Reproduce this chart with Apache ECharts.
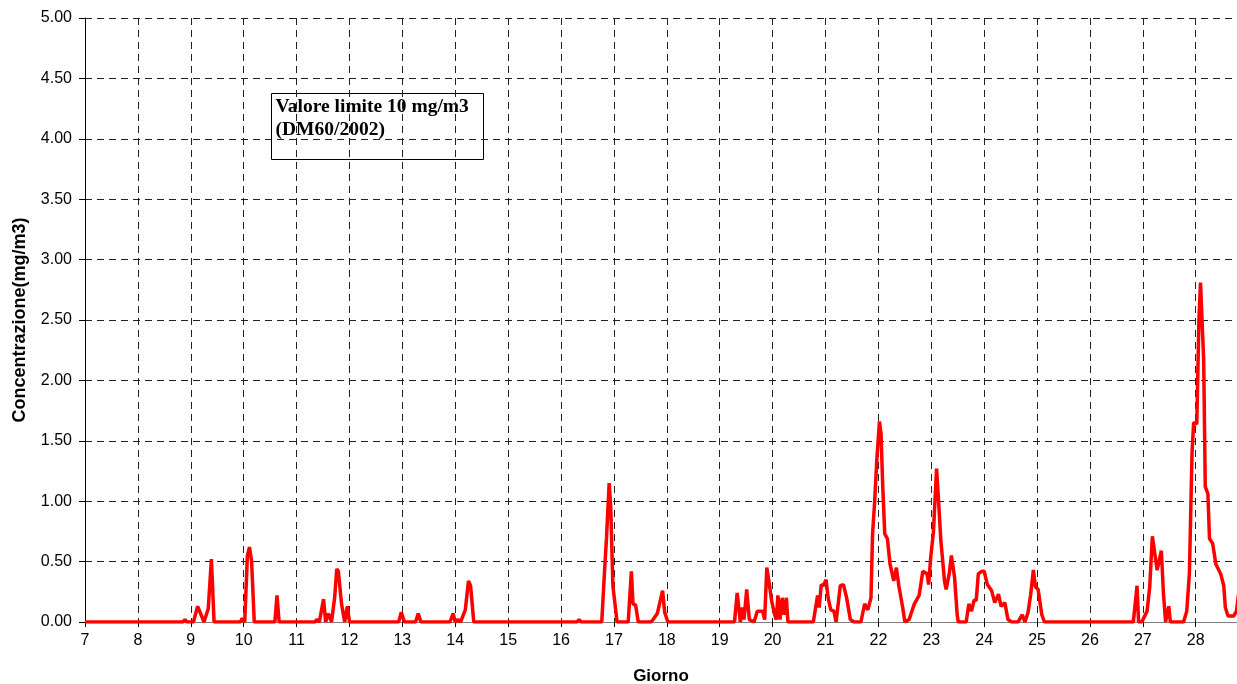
<!DOCTYPE html>
<html>
<head>
<meta charset="utf-8">
<script src="https://cdn.jsdelivr.net/npm/echarts@6/dist/echarts.min.js"></script>
<style>html,body{margin:0;padding:0;background:#fff;overflow:hidden}#c{width:1237px;height:684px}</style>
</head>
<body>
<div id="c"></div>
<script>
// Day (decimal) and concentration (mg/m3)
const days = [
  7.0, 8.85, 8.89, 8.93, 9.05, 9.13, 9.25, 9.33, 9.39, 9.44,
  9.94, 9.97, 10.02, 10.07, 10.11, 10.15, 10.2,
  10.59, 10.63, 10.67,
  11.35, 11.38, 11.43, 11.51, 11.55, 11.6, 11.66, 11.72, 11.76, 11.79, 11.85, 11.91, 11.96, 12.0,
  12.93, 12.98, 13.04, 13.25, 13.3, 13.35,
  13.9, 13.96, 14.0, 14.05, 14.1, 14.19, 14.25, 14.29, 14.35,
  16.3, 16.34, 16.38,
  16.77, 16.82, 16.86, 16.91, 16.94, 16.98, 17.06,
  17.27, 17.33, 17.36, 17.41, 17.46,
  17.7, 17.74, 17.82, 17.92, 17.96, 18.02,
  19.28, 19.33, 19.39, 19.43, 19.46, 19.51, 19.56, 19.65, 19.71, 19.81, 19.85, 19.89, 19.93, 19.98,
  20.04, 20.07, 20.10, 20.14, 20.18, 20.22, 20.26, 20.29,
  20.77, 20.85, 20.88, 20.92, 20.96, 21.01, 21.05, 21.10, 21.16, 21.20, 21.28, 21.34, 21.40, 21.47, 21.54,
  21.67, 21.74, 21.80, 21.86, 21.89, 21.93, 21.97, 22.02, 22.05, 22.08, 22.12, 22.17, 22.22, 22.29, 22.34, 22.39, 22.46, 22.50,
  22.58, 22.68, 22.77, 22.84, 22.92, 22.95, 22.99, 23.04, 23.10, 23.13, 23.18, 23.25, 23.28, 23.34, 23.38, 23.44, 23.49, 23.51,
  23.66, 23.71, 23.76, 23.81, 23.85, 23.89, 23.96, 24.0, 24.06, 24.14, 24.2, 24.27, 24.32, 24.39, 24.45, 24.52,
  24.64, 24.72, 24.77, 24.83, 24.88, 24.93, 24.97, 25.02, 25.09, 25.14,
  26.82, 26.89, 26.92, 26.98, 27.08, 27.13, 27.18, 27.27, 27.35, 27.39, 27.43, 27.49, 27.52,
  27.77, 27.83, 27.88, 27.93, 27.96, 28.02, 28.06, 28.09, 28.12, 28.15, 28.18, 28.23, 28.26, 28.32, 28.38, 28.47, 28.53, 28.56, 28.61, 28.72, 28.77, 28.82
];
const conc = [
  0, 0, 0.02, 0, 0, 0.13, 0.0, 0.11, 0.52, 0,
  0, 0.03, 0, 0.55, 0.62, 0.5, 0,
  0, 0.22, 0,
  0, 0.02, 0, 0.19, 0, 0.07, 0, 0.2, 0.44, 0.42, 0.15, 0, 0.13, 0,
  0, 0.08, 0, 0, 0.07, 0,
  0, 0.07, 0.0, 0.02, 0, 0.1, 0.34, 0.3, 0,
  0, 0.02, 0,
  0, 0.4, 0.7, 1.15, 0.95, 0.3, 0,
  0, 0.42, 0.15, 0.14, 0,
  0, 0.02, 0.07, 0.26, 0.08, 0,
  0, 0.24, 0, 0.12, 0.02, 0.27, 0.02, 0, 0.09, 0.09, 0.02, 0.45, 0.34, 0.18,
  0.06, 0.02, 0.22, 0.02, 0.2, 0.06, 0.2, 0,
  0, 0.22, 0.12, 0.31, 0.30, 0.35, 0.2, 0.1, 0.09, 0, 0.3, 0.31, 0.2, 0.02, 0,
  0, 0.15, 0.1, 0.2, 0.73, 1.0, 1.34, 1.66, 1.56, 1.15, 0.73, 0.69, 0.48, 0.34, 0.45, 0.29, 0.12, 0,
  0.02, 0.15, 0.22, 0.42, 0.4, 0.31, 0.54, 0.74, 1.27, 1.06, 0.68, 0.34, 0.27, 0.4, 0.55, 0.37, 0.06, 0,
  0, 0.15, 0.09, 0.18, 0.18, 0.4, 0.42, 0.42, 0.31, 0.26, 0.16, 0.23, 0.13, 0.16, 0.02, 0,
  0, 0.06, 0, 0.08, 0.23, 0.43, 0.29, 0.27, 0.06, 0,
  0, 0.3, 0, 0, 0.09, 0.29, 0.71, 0.43, 0.59, 0.23, 0, 0.13, 0,
  0, 0.09, 0.4, 1.4, 1.65, 1.64, 2.5, 2.81, 2.81, 2.17, 1.12, 1.06, 0.69, 0.65, 0.48, 0.4, 0.3, 0.12, 0.05, 0.05, 0.09, 0.27
];
const xMin = 7, xMax = 28.78;
const yMax = 5, yStep = 0.5;
const xTitle = 'Giorno';
const yTitle = 'Concentrazione(mg/m3)';
const noteLines = ['Valore limite 10 mg/m3', '(DM60/2002)'];

const chart = echarts.init(document.getElementById('c'));
const gridDash = { color: '#222', width: 1, type: [7, 5] };
const labelFont = { color: '#000', fontFamily: 'Liberation Sans', fontSize: 16 };
const nameFont = { fontFamily: 'Liberation Sans', fontWeight: 'bold', fontSize: 17, color: '#000' };
chart.setOption({
  animation: false,
  grid: { left: 85, right: 0, top: 18, bottom: 62, containLabel: false, outerBoundsMode: 'none' },
  xAxis: [{
    type: 'value', min: xMin, max: xMax, interval: 1,
    name: xTitle, nameLocation: 'middle', nameGap: 46, nameTextStyle: nameFont,
    axisLine: { show: true, onZero: false, lineStyle: { color: '#000', width: 1 } },
    axisTick: { show: true, length: 5, lineStyle: { color: '#000' } },
    axisLabel: Object.assign({}, labelFont, {
      margin: 11, showMaxLabel: false,
      formatter: v => Math.abs(v - Math.round(v)) < 1e-6 ? String(Math.round(v)) : ''
    }),
    splitLine: { show: true, lineStyle: gridDash }
  }, {
    type: 'value', min: xMin, max: xMax, position: 'top',
    axisLine: { show: true, lineStyle: { color: '#808080', width: 1 } },
    axisTick: { show: false }, axisLabel: { show: false }, splitLine: { show: false }
  }],
  yAxis: {
    type: 'value', min: 0, max: yMax, interval: yStep,
    name: yTitle, nameLocation: 'middle', nameGap: 56,
    nameTextStyle: Object.assign({}, nameFont, { fontSize: 18 }),
    axisLine: { show: true, lineStyle: { color: '#000', width: 1 } },
    axisTick: { show: true, length: 6, lineStyle: { color: '#000' } },
    axisLabel: Object.assign({}, labelFont, { margin: 13, formatter: v => v.toFixed(2) }),
    splitLine: { show: true, lineStyle: gridDash }
  },
  series: [{
    type: 'line', xAxisIndex: 0,
    data: days.map((d, i) => [d, conc[i]]),
    showSymbol: false, symbol: 'none',
    lineStyle: { color: '#ff0000', width: 3.5 },
    clip: true
  }],
  graphic: [{
    type: 'group', left: 271, top: 93,
    children: [{
      type: 'rect', shape: { x: 0, y: 0, width: 212, height: 66 },
      style: { fill: '#fff', stroke: '#000', lineWidth: 1 }
    }, {
      type: 'text', x: 4, y: 2,
      style: { text: noteLines.join('\n'), font: 'bold 19.5px "Liberation Serif"', fill: '#000', lineHeight: 23 }
    }]
  }]
});
</script>
</body>
</html>
